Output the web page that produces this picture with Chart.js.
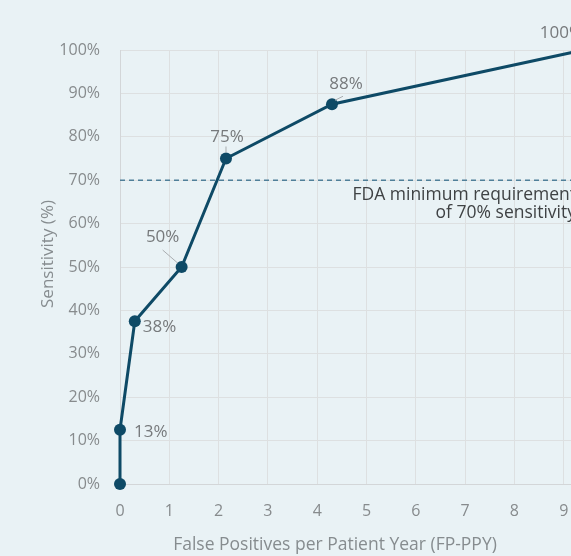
<!DOCTYPE html>
<html>
<head>
<meta charset="utf-8">
<script src="https://cdn.jsdelivr.net/npm/chart.js@4"></script>
<style>
  html, body { margin: 0; padding: 0; background: #e9f2f5; overflow: hidden; }
  #wrap { position: absolute; left: 0; top: 0; width: 680px; height: 556px; }
</style>
</head>
<body>
<div id="wrap"><canvas id="roc" width="680" height="556"></canvas></div>
<script>
// Operating points of the detector: false positives per patient year vs sensitivity
const fpppy = [0, 0, 0.3, 1.25, 2.15, 4.3, 9.4];
const sensitivity = [0, 12.5, 37.5, 50, 75, 87.5, 100];
const xTickValues = [0, 1, 2, 3, 4, 5, 6, 7, 8, 9, 10];
const yTickValues = [0, 10, 20, 30, 40, 50, 60, 70, 80, 90, 100];
const fdaLevel = 70;
const fdaNote = ['FDA minimum requirement', 'of 70% sensitivity'];
const xTitle = 'False Positives per Patient Year (FP-PPY)';
const yTitle = 'Sensitivity (%)';

const FONT = "'Open Sans', 'DejaVu Sans', sans-serif";
const LINE = '#0e4a66';

// Where each value label sits relative to its point (index -> placement)
const labelPlacement = {
  1: { dx: 14, dy: 2, align: 'left' },
  2: { dx: 8, dy: 6, align: 'left' },
  3: { dx: -19, dy: -30, align: 'center', leader: [-19, -17, -4, -4] },
  4: { dx: 1, dy: -21, align: 'center', leader: [0, -12, 0, -6] },
  5: { dx: 14, dy: -20, align: 'center', leader: [3, -4, 11, -8] },
  6: { dx: -22, dy: -17, align: 'center' }
};

const points = fpppy.map((x, i) => ({ x, y: sensitivity[i] }));
const xMin = xTickValues[0], xMax = xTickValues[xTickValues.length - 1];
const fdaLine = [{ x: xMin, y: fdaLevel }, { x: xMax, y: fdaLevel }];

const annotations = {
  id: 'annotations',
  afterDatasetsDraw(chart) {
    const ctx = chart.ctx;
    const meta = chart.getDatasetMeta(1);
    const xs = chart.scales.x, ys = chart.scales.y;
    ctx.save();
    // value labels
    ctx.font = '17px ' + FONT;
    ctx.textBaseline = 'middle';
    Object.keys(labelPlacement).forEach(k => {
      const i = +k, p = labelPlacement[k];
      const el = meta.data[i];
      if (p.leader) {
        ctx.strokeStyle = '#a9adb0';
        ctx.lineWidth = 1;
        ctx.beginPath();
        ctx.moveTo(el.x + p.leader[0], el.y + p.leader[1]);
        ctx.lineTo(el.x + p.leader[2], el.y + p.leader[3]);
        ctx.stroke();
      }
      ctx.fillStyle = '#76797b';
      ctx.textAlign = p.align;
      ctx.fillText(Math.round(sensitivity[i]) + '%', el.x + p.dx, el.y + p.dy);
    });
    // threshold note
    ctx.fillStyle = '#3f4244';
    ctx.font = '17.5px ' + FONT;
    ctx.textAlign = 'right';
    const ny = ys.getPixelForValue(fdaLevel);
    const nx = xs.getPixelForValue(9.25);
    fdaNote.forEach((t, j) => ctx.fillText(t, nx, ny + 15 + j * 18));
    ctx.restore();
  },
  afterDraw(chart) {
    const ctx = chart.ctx;
    ctx.save();
    ctx.fillStyle = '#868c8f';
    ctx.font = '17.5px ' + FONT;
    ctx.textAlign = 'center';
    ctx.textBaseline = 'middle';
    ctx.fillText(xTitle, 335, 545);
    ctx.font = '17px ' + FONT;
    ctx.translate(48, 254);
    ctx.rotate(-Math.PI / 2);
    ctx.fillText(yTitle, 0, 0);
    ctx.restore();
  }
};

new Chart(document.getElementById('roc'), {
  type: 'scatter',
  data: {
    datasets: [
      {
        data: fdaLine,
        showLine: true,
        borderColor: '#4f7f99',
        borderWidth: 1.5,
        borderDash: [5, 4],
        pointRadius: 0,
        pointHoverRadius: 0
      },
      {
        data: points,
        showLine: true,
        clip: false,
        borderColor: LINE,
        backgroundColor: LINE,
        borderWidth: 3,
        pointRadius: 6,
        pointBackgroundColor: LINE,
        pointBorderWidth: 0,
        tension: 0
      }
    ]
  },
  options: {
    responsive: false,
    animation: false,
    devicePixelRatio: 1,
    layout: { padding: { left: 0, top: 50, right: 67, bottom: 0 } },
    plugins: { legend: { display: false }, tooltip: { enabled: false } },
    scales: {
      x: {
        type: 'linear',
        min: xMin,
        max: xMax,
        afterBuildTicks(s) { s.ticks = xTickValues.map(v => ({ value: v })); },
        afterFit(s) { s.height = 72; },
        grid: { color: '#dde0e1', lineWidth: 1, drawTicks: false },
        border: { color: '#d3d6d8', width: 1 },
        ticks: { padding: 18, color: '#878b8d', font: { family: FONT, size: 16 } }
      },
      y: {
        type: 'linear',
        min: yTickValues[0],
        max: yTickValues[yTickValues.length - 1],
        afterBuildTicks(s) { s.ticks = yTickValues.map(v => ({ value: v })); },
        afterFit(s) { s.width = 120; },
        grid: { color: '#dde0e1', lineWidth: 1, drawTicks: false },
        border: { color: '#d3d6d8', width: 1 },
        ticks: { padding: 20, color: '#878b8d', font: { family: FONT, size: 16 },
                 callback: v => v + '%' }
      }
    }
  },
  plugins: [annotations]
});
</script>
</body>
</html>
